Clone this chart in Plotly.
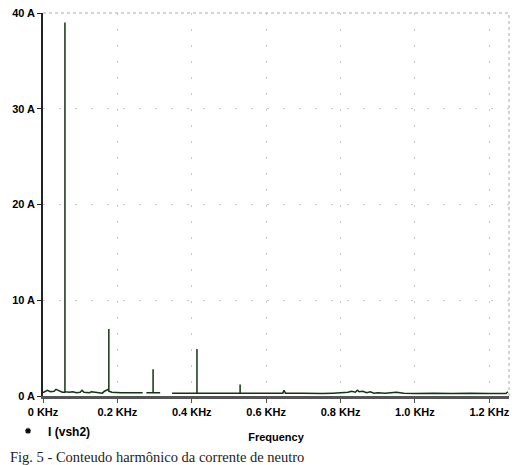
import plotly.graph_objects as go

# spectrum of the neutral current (freq in KHz, amplitude in A)
freq = [0.0, 0.005, 0.012, 0.02, 0.03, 0.035, 0.045, 0.052,
        0.059, 0.059, 0.059,
        0.07, 0.08, 0.09, 0.1, 0.105, 0.11, 0.125, 0.13, 0.14, 0.15, 0.16, 0.165, 0.17,
        0.177, 0.177, 0.177,
        0.185, 0.21, 0.25, 0.268, None, 0.278,
        0.296, 0.296, 0.296,
        0.315, None, 0.347, 0.38, 0.41,
        0.414, 0.414, 0.414,
        0.45, 0.5, 0.525,
        0.53, 0.53, 0.53,
        0.56, 0.6, 0.645, 0.648, 0.652, 0.7, 0.75, 0.78, 0.8, 0.81, 0.82,
        0.83, 0.84, 0.845, 0.85, 0.86, 0.87, 0.88, 0.89, 0.9, 0.92, 0.95,
        0.97, 1.0, 1.05, 1.1, 1.15, 1.2, 1.245, 1.25]
amps = [0.35, 0.45, 0.6, 0.45, 0.5, 0.7, 0.5, 0.4,
        0.4, 39.0, 0.45,
        0.4, 0.45, 0.35, 0.4, 0.6, 0.4, 0.35, 0.45, 0.4, 0.35, 0.3, 0.5, 0.55,
        0.7, 7.0, 0.5,
        0.4, 0.35, 0.35, 0.35, None, 0.35,
        0.35, 2.8, 0.35,
        0.35, None, 0.3, 0.3, 0.3,
        0.3, 4.9, 0.3,
        0.3, 0.3, 0.3,
        0.3, 1.2, 0.3,
        0.3, 0.3, 0.3, 0.6, 0.3, 0.3, 0.25, 0.3, 0.35, 0.3, 0.4,
        0.5, 0.4, 0.6, 0.45, 0.5, 0.35, 0.45, 0.3, 0.35, 0.3, 0.4,
        0.3, 0.25, 0.3, 0.25, 0.3, 0.25, 0.25, 0.45]

x_ticks = [0, 0.2, 0.4, 0.6, 0.8, 1.0, 1.2]
x_labels = ["0 KHz", "0.2 KHz", "0.4 KHz", "0.6 KHz", "0.8 KHz", "1.0 KHz", "1.2 KHz"]
y_ticks = [0, 10, 20, 30, 40]
y_labels = ["0 A", "10 A", "20 A", "30 A", "40 A"]

bold = dict(family="Liberation Sans, Arial", size=11, color="black", weight="bold")

fig = go.Figure()
fig.add_trace(go.Scatter(x=freq, y=amps, mode="lines", connectgaps=False,
                         line=dict(color="#143414", width=1.5), showlegend=False))
# legend entry only (small marker like the original)
fig.add_trace(go.Scatter(x=[None], y=[None], mode="markers", name="I (vsh2)",
                         marker=dict(symbol="asterisk", size=5, color="black",
                                     line=dict(width=1.2, color="black"))))

# page body has an 8px margin, so the figure is a bit smaller than the window
fig.update_layout(
    width=514, height=457,
    margin=dict(l=35, r=13, t=5, b=69, autoexpand=False),
    paper_bgcolor="white", plot_bgcolor="white",
    font=bold,
    legend=dict(orientation="h", x=-0.075, xanchor="left", y=-0.091, yanchor="middle",
                font=dict(bold, size=12), itemwidth=30),
)

fig.update_xaxes(range=[0, 1.253], tickvals=x_ticks, ticktext=x_labels, automargin=False,
                 showline=True, linecolor="#555", linewidth=3,
                 ticks="outside", ticklen=4, tickcolor="#555",
                 showgrid=True, gridcolor="#c8c8c8", griddash="2px,14px", gridwidth=1,
                 zeroline=False, tickfont=bold, ticklabeloverflow="allow",
                 title=dict(text="Frequency", font=bold, standoff=17))
fig.update_yaxes(range=[0, 40], tickvals=y_ticks, ticktext=y_labels, automargin=False,
                 showline=True, linecolor="#222", linewidth=1.5,
                 ticks="outside", ticklen=4, tickcolor="#222",
                 showgrid=True, gridcolor="#c8c8c8", griddash="2px,14px", gridwidth=1,
                 zeroline=False, tickfont=bold, ticklabeloverflow="allow")

# dotted frame on top and right
fig.add_shape(type="line", xref="paper", yref="paper", x0=0, x1=1, y0=1, y1=1,
              line=dict(color="#aaaaaa", width=1, dash="dot"))
fig.add_shape(type="line", xref="paper", yref="paper", x0=1, x1=1, y0=0, y1=1,
              line=dict(color="#aaaaaa", width=1, dash="dot"))

fig.add_annotation(text="Fig. 5 - Conteudo harmônico da corrente de neutro",
                   xref="paper", yref="paper", x=-0.075, y=-0.158,
                   xanchor="left", yanchor="middle", showarrow=False,
                   font=dict(family="Liberation Serif, Times New Roman", size=14.5,
                             color="#222", weight="normal"))

fig.write_html("out.html")
